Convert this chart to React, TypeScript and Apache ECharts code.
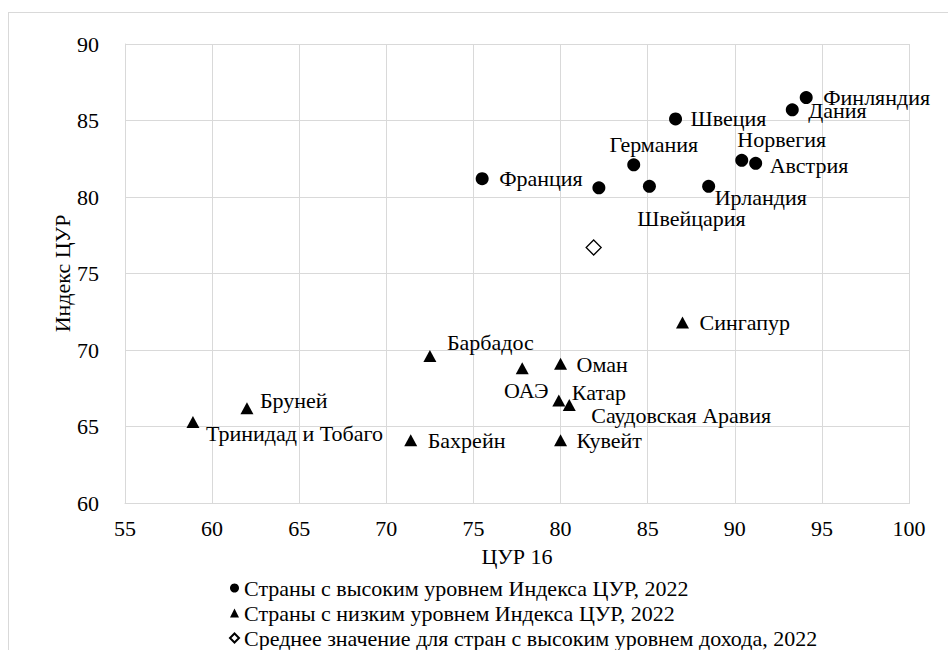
import React, { useEffect, useRef } from "react";
import * as echarts from "echarts";

// ---- data ----
const highNames = ["Финляндия", "Дания", "Швеция", "Германия", "Норвегия", "Австрия", "Франция", "Эстония", "Швейцария", "Ирландия"];
const highX = [94.1, 93.3, 86.6, 84.2, 90.4, 91.2, 75.5, 82.2, 85.1, 88.5];
const highY = [86.5, 85.7, 85.1, 82.1, 82.4, 82.2, 81.2, 80.6, 80.7, 80.7];

const lowNames = ["Тринидад и Тобаго", "Бруней", "Барбадос", "ОАЭ", "Оман", "Катар", "Саудовская Аравия", "Бахрейн", "Кувейт", "Сингапур"];
const lowX = [58.9, 62.0, 72.5, 77.8, 80.0, 79.9, 80.5, 71.4, 80.0, 87.0];
const lowY = [65.3, 66.2, 69.6, 68.8, 69.1, 66.7, 66.4, 64.1, 64.1, 71.8];

const avgX = [81.9];
const avgY = [76.7];

const seriesNames = [
  "Страны с высоким уровнем Индекса ЦУР, 2022",
  "Страны с низким уровнем Индекса ЦУР, 2022",
  "Среднее значение для стран с высоким уровнем дохода, 2022",
];
const xTitle = "ЦУР 16";
const yTitle = "Индекс ЦУР";
const xMin = 55, xMax = 100, yMin = 60, yMax = 90, step = 5;

// ---- label placement (style, not data): [align, dx, dy] ----
const labelPlacement: Record<string, [string, number, number] | null> = {
  "Финляндия": ["left", 17, 0],
  "Дания": ["left", 16, 1],
  "Швеция": ["left", 15, 0],
  "Германия": ["center", 20, -20],
  "Норвегия": ["center", 40, -21],
  "Австрия": ["left", 14, 2],
  "Франция": ["left", 17, 0],
  "Эстония": null,
  "Швейцария": ["center", 42, 32],
  "Ирландия": ["left", 6, 11],
  "Тринидад и Тобаго": ["left", 13, 12],
  "Бруней": ["left", 13, -8],
  "Барбадос": ["left", 17, -14],
  "ОАЭ": ["center", 4, 22],
  "Оман": ["left", 16, 1],
  "Катар": ["left", 13, -8],
  "Саудовская Аравия": ["left", 22, 10],
  "Бахрейн": ["left", 17, 0],
  "Кувейт": ["left", 16, 0],
  "Сингапур": ["left", 17, 0],
};

const FONT = "Liberation Serif";
const FS = 22;
const GRID = "#d9d9d9";

function buildPoints(names: string[], xs: number[], ys: number[]) {
  return names.map((n, i) => {
    const p = labelPlacement[n];
    return {
      name: n,
      value: [xs[i], ys[i]],
      label: p
        ? { show: true, position: "inside", align: p[0], verticalAlign: "middle", offset: [p[1], p[2]] }
        : { show: false },
    };
  });
}

function forceSerif(root: HTMLElement | null) {
  if (!root) return;
  root.querySelectorAll("text, tspan").forEach((el) => {
    const e = el as SVGElement;
    e.setAttribute("font-family", FONT);
    e.style.setProperty("font-family", FONT, "important");
  });
}

export default function App() {
  const ref = useRef<HTMLDivElement>(null);
  useEffect(() => {
    if (!ref.current) return;
    const chart = echarts.init(ref.current, undefined, { renderer: "svg" });
    const labelStyle = {
      show: true,
      formatter: "{b}",
      color: "#000",
      fontFamily: FONT,
      fontSize: FS,
    };
    chart.setOption({
      animation: false,
      grid: { left: 125, top: 44, right: 39, bottom: 147 },
      xAxis: {
        type: "value",
        min: xMin,
        max: xMax,
        interval: step,
        name: xTitle,
        nameLocation: "middle",
        nameGap: 42,
        nameMoveOverlap: false,
        nameTextStyle: { fontFamily: FONT, fontSize: FS, color: "#000" },
        axisLine: { show: true, lineStyle: { color: GRID, width: 1 } },
        axisTick: { show: false },
        splitLine: { show: true, lineStyle: { color: GRID, width: 1 } },
        axisLabel: { fontFamily: FONT, fontSize: FS, color: "#000", margin: 14 },
      },
      yAxis: {
        type: "value",
        min: yMin,
        max: yMax,
        interval: step,
        name: yTitle,
        nameLocation: "middle",
        nameGap: 52,
        nameMoveOverlap: false,
        nameRotate: 90,
        nameTextStyle: { fontFamily: FONT, fontSize: FS, color: "#000" },
        axisLine: { show: true, lineStyle: { color: GRID, width: 1 } },
        axisTick: { show: false },
        splitLine: { show: true, lineStyle: { color: GRID, width: 1 } },
        axisLabel: { fontFamily: FONT, fontSize: FS, color: "#000", margin: 26 },
      },
      legend: {
        orient: "vertical",
        left: 229,
        top: 577,
        height: 120,
        padding: 0,
        itemWidth: 9,
        itemHeight: 9,
        itemGap: 3,
        textStyle: { fontFamily: FONT, fontSize: FS, color: "#000", lineHeight: 22 },
        data: seriesNames,
      },
      series: [
        {
          type: "scatter",
          name: seriesNames[0],
          symbol: "circle",
          symbolSize: 13,
          itemStyle: { color: "#000", opacity: 1 },
          label: labelStyle,
          data: buildPoints(highNames, highX, highY),
        },
        {
          type: "scatter",
          name: seriesNames[1],
          symbol: "triangle",
          symbolSize: [13, 12],
          itemStyle: { color: "#000", opacity: 1 },
          label: labelStyle,
          data: buildPoints(lowNames, lowX, lowY),
        },
        {
          type: "scatter",
          name: seriesNames[2],
          symbol: "diamond",
          symbolSize: 15,
          itemStyle: { color: "#fff", borderColor: "#000", borderWidth: 1.3, opacity: 1 },
          data: avgX.map((x, i) => [x, avgY[i]]),
        },
      ],
    });
    const el = ref.current;
    const apply = () => forceSerif(el);
    chart.on("finished", apply);
    apply();
    const raf = requestAnimationFrame(apply);
    const t1 = setTimeout(apply, 30);
    const t2 = setTimeout(apply, 200);
    return () => {
      cancelAnimationFrame(raf);
      clearTimeout(t1);
      clearTimeout(t2);
      chart.dispose();
    };
  }, []);
  return (
    <div style={{ position: "fixed", left: 0, top: 0, width: 948, height: 650, background: "#fff", fontFamily: FONT }}>
      <style>{`#root svg text, #root svg tspan { font-family: "Liberation Serif", serif !important; }`}</style>
      <div
        style={{
          position: "absolute",
          left: 8,
          top: 12,
          width: 1200,
          height: 1200,
          borderTop: "1.5px solid " + GRID,
          borderLeft: "1.5px solid " + GRID,
          boxSizing: "border-box",
        }}
      />
      <div
        style={{
          position: "absolute",
          left: 125,
          top: 44,
          width: 785,
          height: 460,
          border: "1px solid " + GRID,
          boxSizing: "border-box",
        }}
      />
      <div ref={ref} style={{ position: "absolute", left: 0, top: 0, width: 948, height: 650 }} />
    </div>
  );
}
